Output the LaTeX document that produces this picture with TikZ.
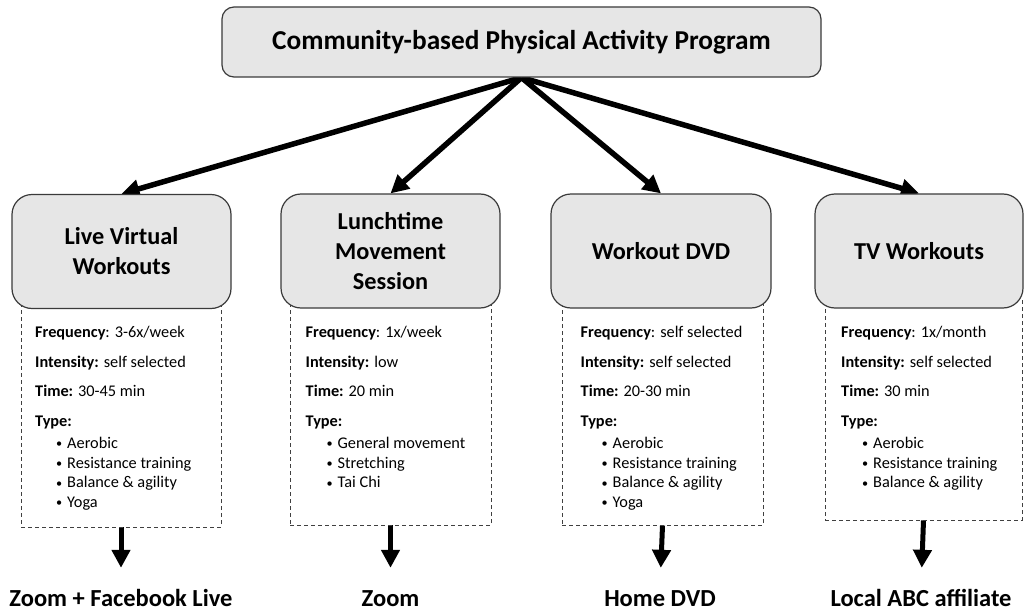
\documentclass[tikz,border=0pt]{standalone}
\usepackage{fontspec}
\setmainfont{Carlito}
\usetikzlibrary{arrows.meta,backgrounds}

\definecolor{boxfill}{HTML}{E6E6E6}
\definecolor{boxline}{HTML}{3A3A3A}

% one bullet line of an activity list
\newcommand\bulletitem[1]{\hspace*{21pt}\makebox[11pt][l]{\raisebox{0.5pt}{\scalebox{0.75}{\textbullet}}}#1}

\tikzset{
  headbox/.style={draw=boxline, line width=1.2pt, fill=boxfill, rounded corners=12pt,
    minimum width=599pt, minimum height=70pt, inner sep=0pt,
    font=\fontsize{27.3}{32}\selectfont\bfseries},
  progbox/.style={draw=boxline, line width=1.2pt, fill=boxfill, rounded corners=20pt,
    minimum height=114pt, inner sep=0pt, align=center,
    font=\fontsize{24.3}{30}\selectfont\bfseries},
  detailbox/.style={draw=black!75, dash pattern=on 4pt off 3pt, line width=0.9pt, inner sep=0pt},
  detailtext/.style={anchor=north west, align=left, inner sep=0pt,
    font=\fontsize{16.3}{19.7}\selectfont},
  medium/.style={font=\fontsize{24.5}{29}\selectfont\bfseries, inner sep=0pt,
    text height=17pt, text depth=0pt, anchor=base},
  bigarrow/.style={line width=5.5pt, -{Triangle[length=18pt,width=18pt]}},
  downarrow/.style={line width=5pt, -{Triangle[length=18pt,width=18pt]}, shorten >=21pt},
}

\begin{document}
\begin{tikzpicture}[x=1pt,y=-1pt]
\useasboundingbox (0,0) rectangle (1025,615);

% dashed detail frames (drawn first so the program boxes cover their tops)
\node[detailbox, minimum width=200pt, minimum height=227pt] (d1) at (121,413.5) {};
\node[detailbox, minimum width=201pt, minimum height=225pt] (d2) at (390.5,412.5) {};
\node[detailbox, minimum width=201pt, minimum height=225pt] (d3) at (662.5,412.5) {};
\node[detailbox, minimum width=197pt, minimum height=220pt] (d4) at (923.5,410) {};

% program boxes
\node[progbox, minimum width=219pt] (b1) at (121.5,251.5) {Live Virtual\\Workouts};
\node[progbox, minimum width=219pt] (b2) at (390.5,251) {Lunchtime\\Movement\\Session};
\node[progbox, minimum width=220pt] (b3) at (661,251) {Workout DVD};
\node[progbox, minimum width=208pt] (b4) at (919,251) {TV Workouts};

% main program
\node[headbox] (top) at (521.5,42) {Community-based Physical Activity Program};

% details of each program
\node[detailtext] (t1) at (35,326) {%
  \textbf{Frequency}: 3-6x/week\\[10pt]
  \textbf{Intensity:} self selected\\[10pt]
  \textbf{Time:} 30-45 min\\[10pt]
  \textbf{Type:}\\[2pt]
  \bulletitem{Aerobic}\\
  \bulletitem{Resistance training}\\
  \bulletitem{Balance \& agility}\\
  \bulletitem{Yoga}};
\node[detailtext] (t2) at (305.5,326) {%
  \textbf{Frequency}: 1x/week\\[10pt]
  \textbf{Intensity:} low\\[10pt]
  \textbf{Time:} 20 min\\[10pt]
  \textbf{Type:}\\[2pt]
  \bulletitem{General movement}\\
  \bulletitem{Stretching}\\
  \bulletitem{Tai Chi}};
\node[detailtext] (t3) at (580.5,326) {%
  \textbf{Frequency}: self selected\\[10pt]
  \textbf{Intensity:} self selected\\[10pt]
  \textbf{Time:} 20-30 min\\[10pt]
  \textbf{Type:}\\[2pt]
  \bulletitem{Aerobic}\\
  \bulletitem{Resistance training}\\
  \bulletitem{Balance \& agility}\\
  \bulletitem{Yoga}};
\node[detailtext] (t4) at (841,326) {%
  \textbf{Frequency}: 1x/month\\[10pt]
  \textbf{Intensity:} self selected\\[10pt]
  \textbf{Time:} 30 min\\[10pt]
  \textbf{Type:}\\[2pt]
  \bulletitem{Aerobic}\\
  \bulletitem{Resistance training}\\
  \bulletitem{Balance \& agility}};

% delivery channels
\node[medium] (l1) at (121,606) {Zoom + Facebook Live};
\node[medium] (l2) at (390.5,606) {Zoom};
\node[medium] (l3) at (660,606) {Home DVD};
\node[medium] (l4) at (921,606) {Local ABC affiliate};

% connectors
\begin{pgfonlayer}{background}
  \draw[bigarrow] (top.south) -- (b1.north);
  \draw[bigarrow] (top.south) -- (b2.north);
  \draw[bigarrow] (top.south) -- (b3.north);
  \draw[bigarrow] (top.south) -- (b4.north);
  \draw[downarrow] (d1.south) -- (l1.north);
  \draw[downarrow] (d2.south) -- (l2.north);
  \draw[downarrow] (d3.south) -- (l3.north);
  \draw[downarrow] (d4.south) -- (l4.north);
\end{pgfonlayer}
\end{tikzpicture}
\end{document}
